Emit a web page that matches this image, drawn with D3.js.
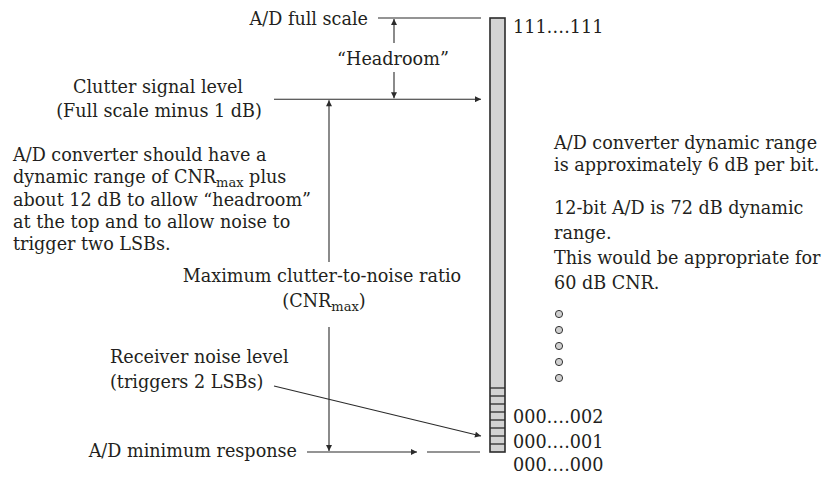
<!DOCTYPE html>
<html>
<head>
<meta charset="utf-8">
<script src="https://cdn.jsdelivr.net/npm/d3@7"></script>
<style>
  html, body { margin: 0; padding: 0; background: #ffffff; }
  text { font-family: "DejaVu Serif", "Liberation Serif", serif; fill: #231f20; }
</style>
</head>
<body>
<svg id="chart" width="838" height="477"></svg>
<script>
// ---------------- data ----------------
// Levels in LSB-cell units (schematic, not to scale)
const levelNames  = ["fullScale", "clutter", "noise", "minimum"];
const levelValues = [54.25, 44.1, 2, 0];
const lsbCells    = [1, 2, 3, 4, 5, 6, 7, 8];
const codeLabels  = ["111….111", "000….002", "000….001", "000….000"];
const codeLevels  = [53.1, 4.375, 1.25, -1.6];
const leftNote = [
  "A/D converter should have a",
  "dynamic range of CNR_{max} plus",
  "about 12 dB to allow “headroom”",
  "at the top and to allow noise to",
  "trigger two LSBs."
];
const rightNote1 = ["A/D converter dynamic range", "is approximately 6 dB per bit."];
const rightNote2 = ["12-bit A/D is 72 dB dynamic", "range.", "This would be appropriate for", "60 dB CNR."];
const dotCount = [1, 2, 3, 4, 5];
const clutterLabel = ["Clutter signal level", "(Full scale minus 1 dB)"];
const cnrLabel = ["Maximum clutter-to-noise ratio", "(CNR_{max})"];
const noiseLabel = ["Receiver noise level", "(triggers 2 LSBs)"];

// ---------------- setup ----------------
const svg = d3.select("#chart");
const lvl = Object.fromEntries(levelNames.map((n, i) => [n, levelValues[i]]));
const y = d3.scaleLinear().domain([0, 54.25]).range([452, 18]);
const FS = 17.6;
const ink = "#2b2b2b";

const defs = svg.append("defs");
defs.append("marker")
  .attr("id", "ah").attr("viewBox", "0 0 10 10")
  .attr("refX", 10).attr("refY", 5)
  .attr("markerUnits", "userSpaceOnUse")
  .attr("markerWidth", 9).attr("markerHeight", 6)
  .attr("orient", "auto")
  .append("path").attr("d", "M0,0 L10,5 L0,10 z").attr("fill", ink);

function rich(textSel, str) {
  const parts = str.split(/(_\{[^}]*\})/).filter(p => p.length);
  let shifted = false;
  parts.forEach(p => {
    if (p.startsWith("_{")) {
      textSel.append("tspan").attr("dy", 4).attr("font-size", FS * 0.74).text(p.slice(2, -1));
      shifted = true;
    } else {
      const t = textSel.append("tspan").text(p);
      if (shifted) { t.attr("dy", -4); shifted = false; }
    }
  });
  return textSel;
}
function label(x, yy, str, anchor) {
  return rich(svg.append("text").attr("x", x).attr("y", yy)
    .attr("font-size", FS).attr("text-anchor", anchor || "start"), str);
}
function line(x1, y1, x2, y2, arrow) {
  const l = svg.append("line").attr("x1", x1).attr("y1", y1).attr("x2", x2).attr("y2", y2)
    .attr("stroke", ink).attr("stroke-width", 1.1);
  if (arrow) l.attr("marker-end", "url(#ah)");
  return l;
}

// ---------------- A/D bar ----------------
const barX = 490, barW = 15;
svg.append("rect").attr("x", barX).attr("y", y(lvl.fullScale))
  .attr("width", barW).attr("height", y(lvl.minimum) - y(lvl.fullScale))
  .attr("fill", "#d3d3d3").attr("stroke", "#2b2b2b").attr("stroke-width", 1.6);
svg.selectAll("line.cell").data(lsbCells).enter().append("line")
  .attr("class", "cell")
  .attr("x1", barX).attr("x2", barX + barW)
  .attr("y1", d => y(d)).attr("y2", d => y(d))
  .attr("stroke", "#2b2b2b").attr("stroke-width", 1.3);

// code labels
codeLabels.forEach((c, i) => label(513, y(codeLevels[i]) + 6, c));

// ---------------- full scale + headroom ----------------
label(368, 25, "A/D full scale", "end");
line(378, y(lvl.fullScale), 481, y(lvl.fullScale));
line(394, 43, 394, y(lvl.fullScale) + 1, true);
label(393, 65, "“Headroom”", "middle");
line(394, 72, 394, y(lvl.clutter) - 1, true);

// ---------------- clutter ----------------
label(158, 93, clutterLabel[0], "middle");
label(159, 117, clutterLabel[1], "middle");
line(274, y(lvl.clutter), 481, y(lvl.clutter), true);

// ---------------- CNR vertical arrow ----------------
line(329, 262, 329, y(lvl.clutter) + 1, true);
line(329, 327, 329, y(lvl.minimum) - 1, true);
label(322, 282, cnrLabel[0], "middle");
label(324, 307, cnrLabel[1], "middle");

// ---------------- left note ----------------
leftNote.forEach((s, i) => label(13, 161 + i * 22.3, s));

// ---------------- receiver noise ----------------
label(110, 363, noiseLabel[0]);
label(110, 388, noiseLabel[1]);
line(274, 386, 481, y(lvl.noise), true);

// ---------------- minimum response ----------------
label(297, 457, "A/D minimum response", "end");
line(307, y(lvl.minimum), 417, y(lvl.minimum), true);
line(427, y(lvl.minimum), 480, y(lvl.minimum));

// ---------------- right notes ----------------
rightNote1.forEach((s, i) => label(554, 149 + i * 22, s));
rightNote2.forEach((s, i) => label(554, 214 + i * 25, s));
svg.selectAll("circle.dot").data(dotCount).enter().append("circle")
  .attr("class", "dot")
  .attr("cx", 559).attr("cy", d => 298 + d * 16)
  .attr("r", 3.6)
  .attr("fill", "#d0d0d0").attr("stroke", "#333").attr("stroke-width", 1);
</script>
</body>
</html>
